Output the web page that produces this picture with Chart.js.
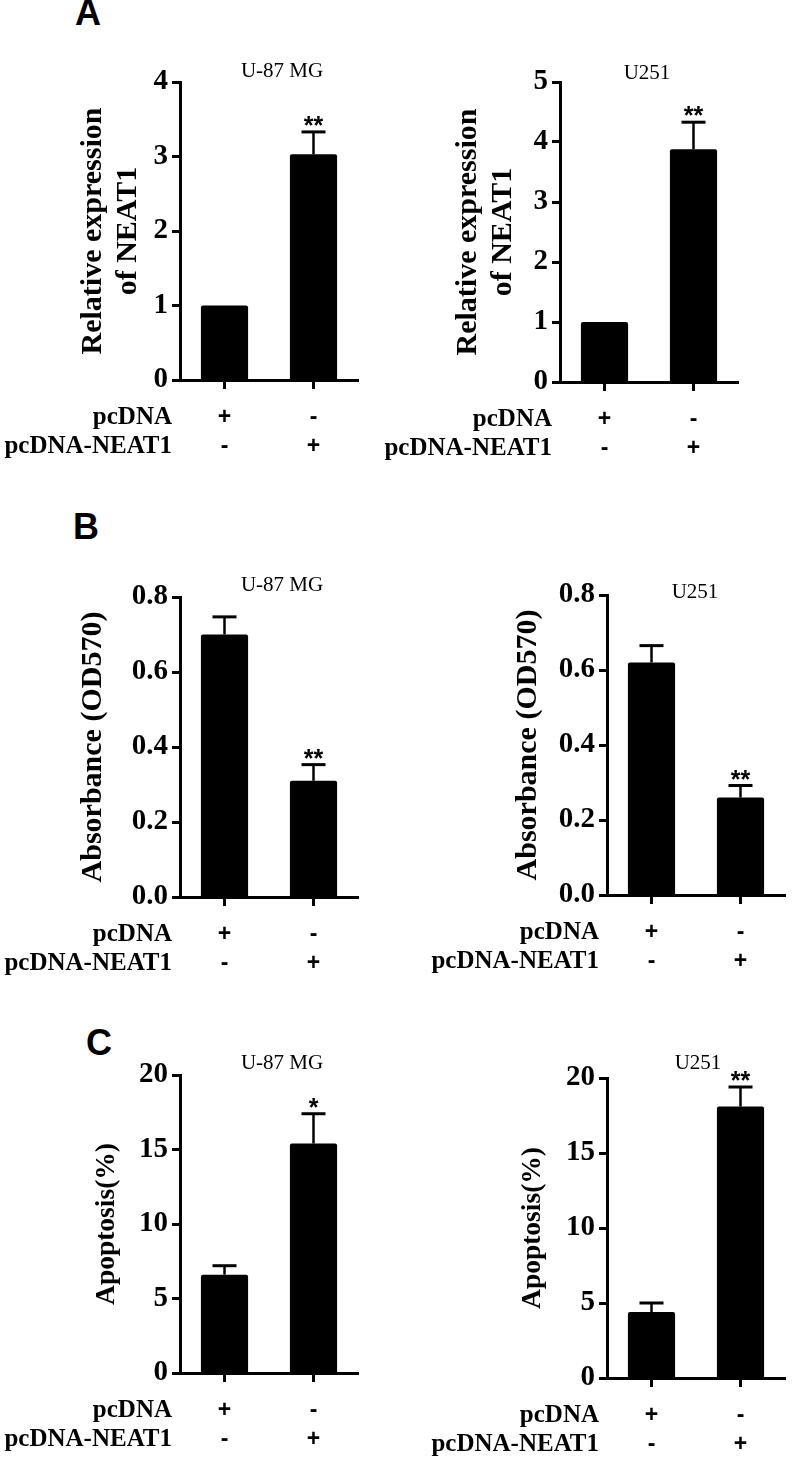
<!DOCTYPE html>
<html>
<head>
<meta charset="utf-8">
<script src="https://cdn.jsdelivr.net/npm/chart.js@4.4.1/dist/chart.umd.min.js"></script>
<style>
  html, body { margin: 0; padding: 0; background: #fff; }
  body { width: 792px; height: 1462px; position: relative; overflow: hidden; }
  .letter { position: absolute; font: bold 36px "Liberation Sans", Arial, sans-serif; color: #000; line-height: 1; }
  canvas { position: absolute; }
</style>
</head>
<body>
<div class="letter" style="left:75px;top:-5px">A</div>
<div class="letter" style="left:73px;top:509px">B</div>
<div class="letter" style="left:86px;top:1025px">C</div>

<canvas id="aLeft"></canvas>
<canvas id="aRight"></canvas>
<canvas id="bLeft"></canvas>
<canvas id="bRight"></canvas>
<canvas id="cLeft"></canvas>
<canvas id="cRight"></canvas>

<script>
// --- data ---
const rowNames = ['pcDNA', 'pcDNA-NEAT1'];
const signs = [['+', '-'], ['-', '+']];   // per group: pcDNA row, pcDNA-NEAT1 row

const exprU87 = [1.0, 3.03];
const exprU87Err = [0, 0.30];
const exprU251 = [1.0, 3.88];
const exprU251Err = [0, 0.45];

const odU87 = [0.70, 0.31];
const odU87Err = [0.047, 0.043];
const odU251 = [0.62, 0.26];
const odU251Err = [0.045, 0.032];

const apoU87 = [6.6, 15.4];
const apoU87Err = [0.6, 2.0];
const apoU251 = [4.4, 18.1];
const apoU251Err = [0.6, 1.3];

const starsU87Expr = ['', '**'];
const starsU251Expr = ['', '**'];
const starsU87Od = ['', '**'];
const starsU251Od = ['', '**'];
const starsU87Apo = ['', '*'];
const starsU251Apo = ['', '**'];

const serif = '"Liberation Serif", "Times New Roman", serif';
const sans = '"Liberation Sans", Arial, sans-serif';

// error bars, stars, cell-line title and row names
const extras = {
    id: 'extras',
    afterDatasetsDraw(chart, args, opts) {
        const ctx = chart.ctx;
        const meta = chart.getDatasetMeta(0);
        const y = chart.scales.y;
        const area = chart.chartArea;
        ctx.save();
        ctx.strokeStyle = '#000';
        ctx.fillStyle = '#000';
        meta.data.forEach((bar, i) => {
            const v = opts.values[i], e = opts.errors[i];
            const x = bar.x;
            const top = y.getPixelForValue(v + e);
            if (e > 0) {
                ctx.lineWidth = 2.5;
                ctx.beginPath();
                ctx.moveTo(x, y.getPixelForValue(v));
                ctx.lineTo(x, top);
                ctx.stroke();
                ctx.lineWidth = 3;
                ctx.beginPath();
                ctx.moveTo(x - 12, top);
                ctx.lineTo(x + 12, top);
                ctx.stroke();
            }
            if (opts.stars[i]) {
                ctx.font = 'bold 25px ' + sans;
                ctx.textAlign = 'center';
                ctx.textBaseline = 'alphabetic';
                ctx.fillText(opts.stars[i], x, top + 2);
            }
        });
        // cell line title
        ctx.font = '21px ' + serif;
        ctx.textAlign = 'center';
        ctx.textBaseline = 'middle';
        ctx.fillText(opts.title, area.left + opts.titleDx, area.top + opts.titleDy);
        // row names
        ctx.font = 'bold 25px ' + serif;
        ctx.textAlign = 'right';
        rowNames.forEach((name, r) => {
            ctx.fillText(name, area.left - 8, area.bottom + 38 + r * 29);
        });
        ctx.restore();
    }
};

function makePanel(id, box, area, yTitle, yTitleX, yTitleSize, yMax, yStep, decimals, values, errors, stars, title, titleDx, titleDy) {
    const cv = document.getElementById(id);
    cv.width = box.w; cv.height = box.h;
    cv.style.left = box.x + 'px'; cv.style.top = box.y + 'px';
    const xHeight = 80;
    new Chart(cv, {
        type: 'bar',
        data: {
            labels: signs,
            datasets: [{
                data: values,
                backgroundColor: '#000',
                borderWidth: 0,
                borderRadius: 2,
                borderSkipped: 'bottom',
                barPercentage: 1,
                categoryPercentage: 0.53
            }]
        },
        options: {
            responsive: false,
            animation: false,
            events: [],
            layout: {
                padding: {
                    left: 0,
                    top: area.t - box.y,
                    right: box.x + box.w - area.r,
                    bottom: box.y + box.h - area.b - xHeight
                }
            },
            plugins: {
                legend: { display: false },
                tooltip: { enabled: false },
                extras: { values, errors, stars, title, titleDx, titleDy }
            },
            scales: {
                x: {
                    afterFit: s => { s.height = xHeight; },
                    border: { display: true, color: '#000', width: 3 },
                    grid: { offset: false, drawOnChartArea: false, tickLength: 9, tickWidth: 3, tickColor: '#000' },
                    ticks: {
                        color: '#000',
                        padding: 14,
                        maxRotation: 0,
                        font: { family: sans, size: 23, weight: 'bold', lineHeight: '29px' }
                    }
                },
                y: {
                    min: 0,
                    max: yMax,
                    afterFit: s => { s.width = area.l - box.x; },
                    border: { display: true, color: '#000', width: 3 },
                    grid: { drawOnChartArea: false, tickLength: 8, tickWidth: 3, tickColor: '#000' },
                    ticks: {
                        stepSize: yStep,
                        color: '#000',
                        padding: 4,
                        font: { family: serif, size: 29, weight: 'bold' },
                        callback: v => v.toFixed(decimals)
                    },
                    title: {
                        display: true,
                        text: yTitle,
                        color: '#000',
                        padding: { top: yTitleX - box.x - 17.5, bottom: 0 },
                        font: { family: serif, size: yTitleSize, weight: 'bold', lineHeight: '35px' }
                    }
                }
            }
        },
        plugins: [extras]
    });
}

const exprTitle = ['Relative expression', 'of NEAT1'];
const leftBox = (y, h) => ({ x: 0, y, w: 372, h });
const rightBox = (y, h) => ({ x: 372, y, w: 420, h });

makePanel('aLeft', leftBox(50, 420), { l: 180, t: 82, r: 358, b: 380 },
    exprTitle, 93, 30, 4, 1, 0, exprU87, exprU87Err, starsU87Expr, 'U-87 MG', 102, -11);
makePanel('aRight', rightBox(50, 420), { l: 560, t: 82, r: 738, b: 382 },
    exprTitle, 468, 30, 5, 1, 0, exprU251, exprU251Err, starsU251Expr, 'U251', 87, -9);

makePanel('bLeft', leftBox(560, 430), { l: 180, t: 597, r: 358, b: 897 },
    'Absorbance (OD570)', 93, 30, 0.8, 0.2, 1, odU87, odU87Err, starsU87Od, 'U-87 MG', 102, -12);
makePanel('bRight', rightBox(560, 430), { l: 607, t: 595, r: 785, b: 895 },
    'Absorbance (OD570)', 528, 30, 0.8, 0.2, 1, odU251, odU251Err, starsU251Od, 'U251', 88, -3);

makePanel('cLeft', leftBox(1040, 422), { l: 180, t: 1075, r: 358, b: 1373 },
    'Apoptosis(%)', 107, 27.5, 20, 5, 0, apoU87, apoU87Err, starsU87Apo, 'U-87 MG', 102, -12);
makePanel('cRight', rightBox(1040, 422), { l: 607, t: 1078, r: 785, b: 1378 },
    'Apoptosis(%)', 533, 27.5, 20, 5, 0, apoU251, apoU251Err, starsU251Apo, 'U251', 91, -15);
</script>
</body>
</html>
